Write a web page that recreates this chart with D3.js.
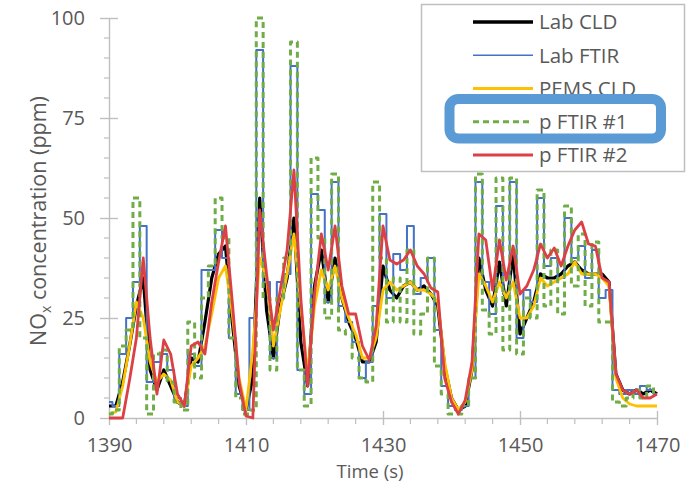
<!DOCTYPE html>
<html><head><meta charset="utf-8">
<script src="https://cdn.jsdelivr.net/npm/d3@7/dist/d3.min.js"></script>
<style>
body{margin:0;background:#fff;}
svg{display:block;font-family:"Open Sans",sans-serif;}
</style></head><body>
<svg id="chart" width="693" height="493"></svg>
<script>
const times = [1390,1391,1392,1393,1394,1395,1396,1397,1398,1399,1400,1401,1402,1403,1404,1405,1406,1407,1408,1409,
1410,1411,1412,1413,1414,1415,1416,1417,1418,1419,1420,1421,1422,1423,1424,1425,1426,1427,1428,1429,
1430,1431,1432,1433,1434,1435,1436,1437,1438,1439,1440,1441,1442,1443,1444,1445,1446,1447,1448,1449,
1450,1451,1452,1453,1454,1455,1456,1457,1458,1459,1460,1461,1462,1463,1464,1465,1466,1467,1468,1469,1470];

const labCLD = [3,3,9,18,28,35,12,7,12,8,4,3,15,14,24,35,41,43,24,8,
2,10,55,27,15,28,35,50,19,8,33,42,29,40,30,24,20,14,14,19,
38,32,30,33,34,32,33,31,28,13,5,2,3,12,40,32,28,39,28,41,
21,25,29,36,35,35,36,38,39,37,36,36,36,34,11,7,6,7,6,7,6];

const labFTIR = [4,3,16,25,34,48,9,14,16,12,5,3,16,13,37,37,47,40,20,6,
2,25,92,34,15,34,36,88,12,6,56,52,29,59,28,24,19,10,14,28,
51,30,41,37,48,31,35,40,22,8,3,2,3,10,59,34,26,53,31,59,
20,32,29,55,38,40,35,50,40,43,35,42,30,32,7,6,7,6,8,7,6];

const pemsCLD = [1,1.5,8,18,29,25,14,9,11,9.5,4,3,13,15,18,26,35,38,26,10,
2,17,40,35,18,27,36,46,28,11,28,37,32,38,30,25,21,15,15,20,
32,34,32,33,34,32,32,31,29,14,5,2,4,12,36,33,29,34,30,34,
25,25,28,35,33,34,35,36,39,36,36,36,35,33,10,5,3.5,3,3,3,3];

const pFTIR1 = [1,2,18,22,55,20,1,16,17,9,4,2,24,10,30,38,55,45,20,5,
1,2,100,30,12,30,40,94,12,3,65,45,25,61,22,21,15,10,9,59,
40,24,35,24,42,21,26,40,13,6,1,1,3,10,61,27,21,60,17,60,
16,30,25,57,28,42,26,53,33,46,28,44,24,24,4,3,5,7,5,8,6];

const pFTIR2 = [0,0,0,9.5,20,40,20,6,19.5,16,6,3,18,19,16,29,39,48,29,9,
0.5,0,52,36,22,32,42,62,30,8,31,46,37,48,33,26,26,18,14.5,23,
48,39.5,38.5,39.5,42,38,36,32.5,31.5,10,4,1,4.5,14,46,44.5,32,44.5,34.5,43,
31,33,37,43.5,40,42.5,38,43,47,49,43.5,43,35,34,11,7,6,7,5,5,6];

const seriesNames = ["Lab CLD","Lab FTIR","PEMS CLD","p FTIR #1","p FTIR #2"];
const xTickValues = [1390,1410,1430,1450,1470];
const yTickValues = [0,25,50,75,100];

const series = [
  {name:seriesNames[0], values:labCLD,  color:"#000000", width:3.2, dash:null,  curve:d3.curveLinear, lw:3.5},
  {name:seriesNames[1], values:labFTIR, color:"#4472C4", width:2,   dash:null,  curve:d3.curveStep,   lw:1.5},
  {name:seriesNames[2], values:pemsCLD, color:"#FFC000", width:2.8, dash:null,  curve:d3.curveLinear, lw:3},
  {name:seriesNames[3], values:pFTIR1,  color:"#70AD47", width:3,   dash:"6,4", curve:d3.curveStep,   lw:3},
  {name:seriesNames[4], values:pFTIR2,  color:"#DD4044", width:2.8, dash:null,  curve:d3.curveLinear, lw:3}
];

const svg = d3.select("#chart");
const x = d3.scaleLinear().domain([1390,1470]).range([109,657]);
const y = d3.scaleLinear().domain([0,100]).range([418,18]);
const axisColor = "#BFBFBF", textColor = "#595959";

// minor ticks
const g = svg.append("g");
const yMinor = d3.range(0,101,5).filter(v=>v%25!==0);
g.selectAll(".ym").data(yMinor).join("line")
  .attr("x1",x(1390)-5).attr("x2",x(1390)).attr("y1",d=>y(d)).attr("y2",d=>y(d))
  .attr("stroke",axisColor).attr("stroke-width",1.2);
const xMinor = d3.range(1390,1471,4).filter(v=>(v-1390)%20!==0);
g.selectAll(".xm").data(xMinor).join("line")
  .attr("x1",d=>x(d)).attr("x2",d=>x(d)).attr("y1",y(0)).attr("y2",y(0)+6)
  .attr("stroke",axisColor).attr("stroke-width",1.2);

// axes
const yAxis = svg.append("g").attr("transform",`translate(${x(1390)},0)`)
  .call(d3.axisLeft(y).tickValues(yTickValues).tickSizeInner(9).tickSizeOuter(0).tickPadding(15));
const xAxis = svg.append("g").attr("transform",`translate(0,${y(0)})`)
  .call(d3.axisBottom(x).tickValues(xTickValues).tickFormat(d3.format("d")).tickSizeInner(7).tickSizeOuter(0).tickPadding(13));
[yAxis,xAxis].forEach(a=>{
  a.select(".domain").attr("stroke",axisColor).attr("stroke-width",1.4);
  a.selectAll(".tick line").attr("stroke",axisColor).attr("stroke-width",1.4);
  a.selectAll(".tick text").attr("fill",textColor).attr("font-size",20).attr("font-family","Open Sans");
});
// crossing part of major ticks
yAxis.selectAll(".tick").append("line").attr("x1",0).attr("x2",9).attr("stroke",axisColor).attr("stroke-width",1.4);
xAxis.selectAll(".tick").append("line").attr("y1",0).attr("y2",-7).attr("stroke",axisColor).attr("stroke-width",1.4);

// lines
const plot = svg.append("g");
series.forEach(s=>{
  const line = d3.line().x((d,i)=>x(times[i])).y(d=>y(d)).curve(s.curve);
  plot.append("path").datum(s.values)
    .attr("d",line).attr("fill","none").attr("stroke",s.color)
    .attr("stroke-width",s.width).attr("stroke-linejoin","round")
    .attr("stroke-dasharray",s.dash);
});

// axis titles
svg.append("text").attr("x",370).attr("y",478).attr("text-anchor","middle")
  .attr("fill",textColor).attr("font-size",18.5).text("Time (s)");
const yt = svg.append("text").attr("transform","translate(46,221) rotate(-90)")
  .attr("text-anchor","middle").attr("fill",textColor).attr("font-size",21.5);
yt.append("tspan").text("NO");
yt.append("tspan").attr("font-size",14).attr("dy",5).text("x");
yt.append("tspan").attr("dy",-5).text(" concentration (ppm)");

// legend
const lg = svg.append("g");
lg.append("rect").attr("x",421.5).attr("y",4.5).attr("width",263).attr("height",167)
  .attr("fill","#fff").attr("stroke",axisColor).attr("stroke-width",1.5);
const rowY = d3.scalePoint().domain(seriesNames).range([22,155]);
series.forEach(s=>{
  const yy = rowY(s.name);
  lg.append("line").attr("x1",473).attr("x2",533).attr("y1",yy).attr("y2",yy)
    .attr("stroke",s.color).attr("stroke-width",s.lw).attr("stroke-dasharray",s.dash);
  lg.append("text").attr("x",539).attr("y",yy).attr("dy","0.36em")
    .attr("fill",textColor).attr("font-size",20.5).text(s.name);
});
// highlight box
lg.append("rect").attr("x",449.5).attr("y",99).attr("width",211.5).attr("height",39.5)
  .attr("rx",9).attr("fill","none").attr("stroke","#5B9BD5").attr("stroke-width",10);
</script>
</body></html>
